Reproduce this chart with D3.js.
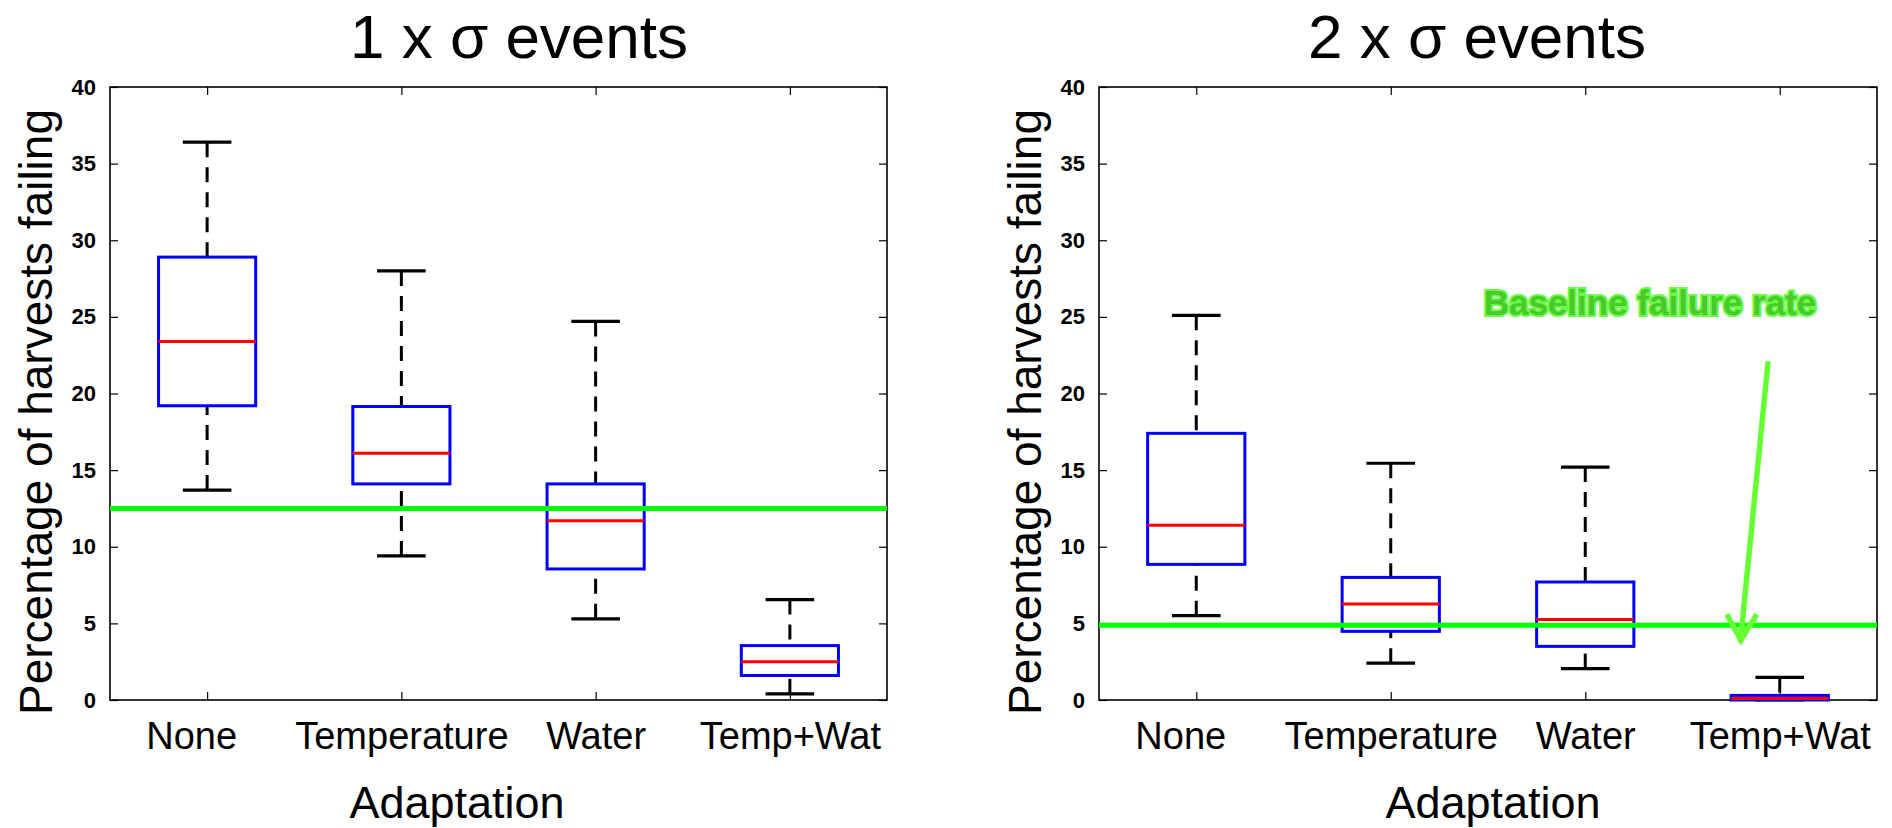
<!DOCTYPE html>
<html>
<head>
<meta charset="utf-8">
<script src="https://cdn.jsdelivr.net/npm/d3@7"></script>
<style>
  body { margin: 0; background: #fff; }
  svg { display: block; font-family: "Liberation Sans", Arial, Helvetica, sans-serif; }
</style>
</head>
<body>
<div id="chart"></div>
<script>
// Categories and tick labels
const categories = ['None', 'Temperature', 'Water', 'Temp+Wat'];
const yTicks = [0, 5, 10, 15, 20, 25, 30, 35, 40];

// Box statistics, 1 x sigma events: [lower whisker, q1, median, q3, upper whisker]
const oneSigmaLow = [13.7, 9.4, 5.3, 0.4];
const oneSigmaQ1 = [19.2, 14.1, 8.55, 1.6];
const oneSigmaMedian = [23.4, 16.1, 11.7, 2.5];
const oneSigmaQ3 = [28.9, 19.15, 14.1, 3.55];
const oneSigmaHigh = [36.4, 28.0, 24.7, 6.55];
const oneSigmaBaseline = 12.5;

// Box statistics, 2 x sigma events
const twoSigmaLow = [5.5, 2.4, 2.05, 0];
const twoSigmaQ1 = [8.85, 4.48, 3.5, 0];
const twoSigmaMedian = [11.4, 6.26, 5.25, 0.1];
const twoSigmaQ3 = [17.4, 8.0, 7.7, 0.3];
const twoSigmaHigh = [25.1, 15.45, 15.2, 1.47];
const twoSigmaBaseline = 4.87;

const W = 1892, H = 828;
const svg = d3.select('#chart').append('svg')
  .attr('width', W)
  .attr('height', H);

svg.append('rect').attr('width', W).attr('height', H).attr('fill', '#fff');

/**
 * Draw one boxplot panel
 */
function drawPanel(opts) {
  const { left, right, top, bottom, title, titleX, xLabelX } = opts;

  // MATLAB-style positions: categories at 1..n, xlim [0.5, n+0.5]
  const x = d3.scaleLinear()
    .domain([0.5, categories.length + 0.5])
    .range([left, right]);
  const y = d3.scaleLinear()
    .domain([0, 40])
    .range([bottom, top]);

  const g = svg.append('g');

  const rows = categories.map((c, i) => ({
    cat: c,
    pos: i + 1,
    lo: opts.low[i],
    q1: opts.q1[i],
    med: opts.median[i],
    q3: opts.q3[i],
    hi: opts.high[i],
  }));

  // Y axis (left) with inward ticks
  const yAxis = d3.axisLeft(y).tickValues(yTicks).tickSizeInner(-8).tickSizeOuter(0).tickPadding(14);
  const ya = g.append('g').attr('transform', `translate(${left},0)`).call(yAxis);
  ya.select('.domain').remove();
  ya.selectAll('line').attr('stroke', '#000').attr('stroke-width', 1.2);
  ya.selectAll('text')
    .attr('font-size', 22)
    .attr('font-weight', 'bold')
    .attr('fill', '#000');

  // Mirror ticks on the right
  const yr = g.append('g').attr('transform', `translate(${right},0)`)
    .call(d3.axisRight(y).tickValues(yTicks).tickSizeInner(-8).tickSizeOuter(0).tickFormat(''));
  yr.select('.domain').remove();
  yr.selectAll('line').attr('stroke', '#000').attr('stroke-width', 1.2);

  // X axis with category labels
  const xa = g.append('g').attr('transform', `translate(0,${bottom})`)
    .call(d3.axisBottom(x).tickValues(rows.map(d => d.pos)).tickSizeInner(-8).tickSizeOuter(0)
      .tickPadding(22).tickFormat((d, i) => categories[i]));
  xa.select('.domain').remove();
  xa.selectAll('line').attr('stroke', '#000').attr('stroke-width', 1.2);
  xa.selectAll('text').attr('font-size', 38).attr('fill', '#000')
    // first label sits a little left of its tick in the original
    .attr('dx', (d, i) => i === 0 ? -16 : 0);

  // Top ticks
  const xt = g.append('g').attr('transform', `translate(0,${top})`)
    .call(d3.axisTop(x).tickValues(rows.map(d => d.pos)).tickSizeInner(-8).tickSizeOuter(0).tickFormat(''));
  xt.select('.domain').remove();
  xt.selectAll('line').attr('stroke', '#000').attr('stroke-width', 1.2);

  // Axes box
  g.append('rect')
    .attr('x', left).attr('y', top)
    .attr('width', right - left).attr('height', bottom - top)
    .attr('fill', 'none').attr('stroke', '#000').attr('stroke-width', 1.6);

  const boxW = x(1.25) - x(1);
  const capW = x(1.125) - x(1);

  const boxes = g.selectAll('.box').data(rows).enter().append('g').attr('class', 'box');

  // Whiskers (dashed)
  boxes.append('line')
    .attr('x1', d => x(d.pos)).attr('x2', d => x(d.pos))
    .attr('y1', d => y(d.hi)).attr('y2', d => y(d.q3))
    .attr('stroke', '#000').attr('stroke-width', 3).attr('stroke-dasharray', '15,10');
  boxes.append('line')
    .attr('x1', d => x(d.pos)).attr('x2', d => x(d.pos))
    .attr('y1', d => y(d.lo)).attr('y2', d => y(d.q1))
    .attr('stroke', '#000').attr('stroke-width', 3).attr('stroke-dasharray', '15,10');

  // Whisker caps
  ['hi', 'lo'].forEach(k => {
    boxes.append('line')
      .attr('x1', d => x(d.pos) - capW).attr('x2', d => x(d.pos) + capW)
      .attr('y1', d => y(d[k])).attr('y2', d => y(d[k]))
      .attr('stroke', '#000').attr('stroke-width', 3.2);
  });

  // Boxes
  boxes.append('rect')
    .attr('x', d => x(d.pos) - boxW)
    .attr('y', d => y(d.q3))
    .attr('width', boxW * 2)
    .attr('height', d => y(d.q1) - y(d.q3))
    .attr('fill', 'none').attr('stroke', '#0000ff').attr('stroke-width', 3);

  // Medians
  boxes.append('line')
    .attr('x1', d => x(d.pos) - boxW).attr('x2', d => x(d.pos) + boxW)
    .attr('y1', d => y(d.med)).attr('y2', d => y(d.med))
    .attr('stroke', '#ff0000').attr('stroke-width', 3);

  // Baseline failure rate
  g.append('line')
    .attr('x1', left).attr('x2', right)
    .attr('y1', y(opts.baseline)).attr('y2', y(opts.baseline))
    .attr('stroke', '#00ff00').attr('stroke-width', 5);

  // Titles and axis labels
  g.append('text')
    .attr('x', titleX).attr('y', 58)
    .attr('text-anchor', 'middle')
    .attr('font-size', 62)
    .text(title);

  g.append('text')
    .attr('x', xLabelX).attr('y', 818)
    .attr('text-anchor', 'middle')
    .attr('font-size', 45)
    .text('Adaptation');

  g.append('text')
    .attr('transform', `translate(${left - 58},${412}) rotate(-90)`)
    .attr('text-anchor', 'middle')
    .attr('font-size', 46)
    .text('Percentage of harvests failing');

  return { x, y, g };
}

drawPanel({
  left: 110, right: 887, top: 87, bottom: 700,
  title: '1 x σ events', titleX: 519, xLabelX: 457,
  low: oneSigmaLow, q1: oneSigmaQ1, median: oneSigmaMedian, q3: oneSigmaQ3, high: oneSigmaHigh,
  baseline: oneSigmaBaseline,
});

const right = drawPanel({
  left: 1099, right: 1877, top: 87, bottom: 700,
  title: '2 x σ events', titleX: 1477, xLabelX: 1493,
  low: twoSigmaLow, q1: twoSigmaQ1, median: twoSigmaMedian, q3: twoSigmaQ3, high: twoSigmaHigh,
  baseline: twoSigmaBaseline,
});

// Annotation: text and arrow pointing at the baseline
const ann = right.g.append('g');
ann.append('text')
  .attr('x', 1650).attr('y', 315)
  .attr('text-anchor', 'middle')
  .attr('font-size', 35)
  .attr('font-weight', 'bold')
  .attr('fill', '#4cc82c')
  .attr('stroke', '#66ff44')
  .attr('stroke-width', 4)
  .attr('paint-order', 'stroke')
  .text('Baseline failure rate');

const arrowColor = '#66ff33';
const tipX = right.x(3.8), tipY = right.y(3.9);
ann.append('line')
  .attr('x1', right.x(3.94)).attr('y1', right.y(22.1))
  .attr('x2', tipX).attr('y2', tipY - 3)
  .attr('stroke', arrowColor).attr('stroke-width', 5.5);
ann.append('polyline')
  .attr('points', `${tipX - 14},${tipY - 26} ${tipX},${tipY} ${tipX + 16},${tipY - 26}`)
  .attr('fill', 'none')
  .attr('stroke', arrowColor).attr('stroke-width', 5.5)
  .attr('stroke-linejoin', 'miter');
</script>
</body>
</html>
